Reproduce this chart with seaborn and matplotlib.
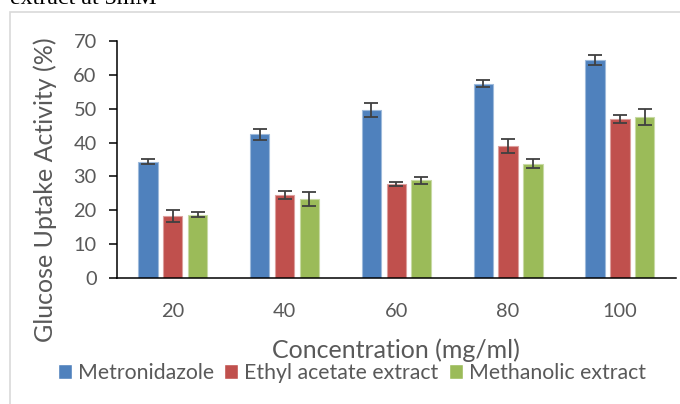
import numpy as np
import pandas as pd
import matplotlib
matplotlib.use("Agg")
import matplotlib.pyplot as plt
import matplotlib.colors as mcolors
from matplotlib.patches import Rectangle
import seaborn as sns

# ---- data ----
concentrations = ["20", "40", "60", "80", "100"]
series_names = ["Metronidazole", "Ethyl acetate extract", "Methanolic extract"]
metronidazole = [34.4, 42.4, 49.6, 57.4, 64.4]
metronidazole_err = [0.8, 1.6, 2.1, 1.1, 1.5]
ethyl_acetate = [18.3, 24.6, 27.9, 38.9, 46.9]
ethyl_acetate_err = [1.8, 1.2, 0.6, 2.1, 1.1]
methanolic = [18.7, 23.3, 28.8, 33.8, 47.5]
methanolic_err = [0.7, 2.1, 0.9, 1.4, 2.3]
y_ticks = [0, 10, 20, 30, 40, 50, 60, 70]
x_label = "Concentration (mg/ml)"
y_label = "Glucose Uptake Activity (%)"
caption_fragment = "extract at 5mM"

colors = ["#4F81BD", "#C0504D", "#9BBB59"]
text_gray = "#595959"

values = [metronidazole, ethyl_acetate, methanolic]
errors = [metronidazole_err, ethyl_acetate_err, methanolic_err]

df = pd.DataFrame({
    "Concentration": concentrations * 3,
    "Series": [s for s in series_names for _ in concentrations],
    "Value": metronidazole + ethyl_acetate + methanolic,
})

sns.set_theme(style="white")
plt.rcParams["font.family"] = ["Lato", "DejaVu Sans"]

W, H = 680, 404
fig = plt.figure(figsize=(W / 100, H / 100), dpi=100)
ax_left, ax_right, ax_top, ax_bottom = 116.8, 675.8, 41.0, 278.0
ax = fig.add_axes([ax_left / W, 1 - ax_bottom / H,
                   (ax_right - ax_left) / W, (ax_bottom - ax_top) / H])

sns.barplot(data=df, x="Concentration", y="Value", hue="Series",
            order=concentrations, hue_order=series_names,
            palette=colors, width=0.666, gap=0.22, errorbar=None,
            saturation=1, ax=ax)

# light outline on bars, error bars from the data arrays
for cont, color, vals, errs in zip(ax.containers, colors, values, errors):
    light = np.array(mcolors.to_rgb(color))
    light = light + (1 - light) * 0.45
    xs = []
    for p in cont.patches:
        p.set_edgecolor(light)
        p.set_linewidth(0.8)
        xs.append(p.get_x() + p.get_width() / 2)
    ax.errorbar(xs, vals, yerr=errs, fmt="none", ecolor="#404040",
                elinewidth=1.3, capsize=4.7, capthick=1.3, zorder=5)

ax.set_ylim(0, 70)
ax.set_yticks(y_ticks)
ax.set_xlim(-0.5, len(concentrations) - 0.5)

for s in ["top", "right"]:
    ax.spines[s].set_visible(False)
for s in ["left", "bottom"]:
    ax.spines[s].set_color("black")
    ax.spines[s].set_linewidth(1.1)

ax.tick_params(axis="y", which="both", left=True, direction="out",
               length=5.5, width=1.1, color="black", pad=9,
               labelsize=14.4, labelcolor=text_gray)
ax.tick_params(axis="x", which="both", bottom=False, length=0, pad=18,
               labelsize=14.4, labelcolor=text_gray)

ax.set_xlabel(x_label, fontsize=18, color=text_gray)
ax.set_ylabel(y_label, fontsize=18, color=text_gray)
ax.xaxis.label.set_va("baseline")
ax.xaxis.set_label_coords(0.5, (ax_bottom - 358.3) / (ax_bottom - ax_top))
ax.yaxis.label.set_va("center")
ax.yaxis.set_label_coords((45 - ax_left) / (ax_right - ax_left),
                          (ax_bottom - 190) / (ax_bottom - ax_top))

sns.move_legend(ax, "center", bbox_to_anchor=(352 / W, 1 - 373 / H),
                bbox_transform=fig.transFigure, ncol=3, title=None,
                frameon=False, fontsize=15.3, handlelength=0.66,
                handleheight=0.66, handletextpad=0.28, columnspacing=0.47,
                borderpad=0, borderaxespad=0)
for t in ax.get_legend().get_texts():
    t.set_color(text_gray)

# chart-area frame (left/top edges visible) and cropped caption above
fig.add_artist(Rectangle((9.5 / W, -0.1), 1.2, 1 - 12.3 / H + 0.1,
                         transform=fig.transFigure, fill=False,
                         edgecolor="#d9d9d9", linewidth=1.2))
fig.text(10 / W, 1 - 4.5 / H, caption_fragment, fontsize=17.3,
         family=["Liberation Serif", "DejaVu Serif"], color="black",
         ha="left", va="baseline")

fig.savefig("out.png", dpi=100)
